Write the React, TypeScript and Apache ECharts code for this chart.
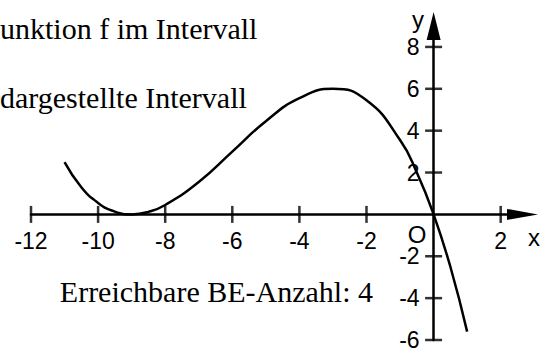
import { useEffect, useRef } from "react";
import * as echarts from "echarts";

// Curve (x, y pairs)
const curveX = [-11, -10.5, -10, -9.5, -9, -8.5, -8, -7, -6, -5, -4, -3, -2, -1, -0.5, 0, 0.5, 1];
const curveY = [2.5, 1.3, 0.55, 0.13, 0, 0.12, 0.45, 1.55, 3.0, 4.45, 5.55, 6.0, 5.45, 3.55, 2.0, 0, -2.5, -5.6];

// Axis ticks / labels
const xTicks = [-12, -10, -8, -6, -4, -2, 2];
const yTicks = [-6, -4, -2, 2, 4, 6, 8];
const xRange = [-12, 2.65];
const yRange = [-6, 9];

// Texts
const topLines = ["unktion f im Intervall", "dargestellte Intervall"];
const noteText = "Erreichbare BE-Anzahl: 4";
const xName = "x";
const yName = "y";
const originName = "O";

const SANS = "'Liberation Sans', Arial, sans-serif";
const SERIF = "'Liberation Serif', 'Times New Roman', serif";

const W = 547;
const H = 351;
const GRID = { left: 31, right: 24.5, top: 26, bottom: 11 };

export default function App() {
  const ref = useRef<HTMLDivElement>(null);

  useEffect(() => {
    document.body.style.margin = "0";
    if (!ref.current) return;
    const chart = echarts.init(ref.current, undefined, { renderer: "svg" });

    const labelFmt = (list: number[]) => (v: number) =>
      list.some((t) => Math.abs(t - v) < 1e-9) ? String(v) : "";

    const plotW = W - GRID.left - GRID.right;
    const plotH = H - GRID.top - GRID.bottom;
    // Move each axis onto the other axis' zero using the scale proportions
    const xAxisOffset = -((0 - yRange[0]) / (yRange[1] - yRange[0])) * plotH;
    const yAxisOffset = -((0 - xRange[0]) / (xRange[1] - xRange[0])) * plotW;

    chart.setOption({
      animation: false,
      backgroundColor: "#fff",
      grid: {
        ...GRID,
        containLabel: false,
        outerBoundsMode: "none",
      },
      xAxis: {
        type: "value",
        position: "bottom",
        offset: xAxisOffset,
        min: xRange[0],
        max: xRange[1],
        interval: 2,
        axisLine: {
          onZero: false,
          symbol: ["none", "triangle"],
          symbolSize: [11, 31],
          lineStyle: { color: "#000", width: 2.5 },
        },
        axisTick: { show: false },
        splitLine: { show: false },
        axisLabel: {
          formatter: labelFmt(xTicks),
          color: "#000",
          fontFamily: SANS,
          fontSize: 23,
          margin: 15,
        },
      },
      yAxis: {
        type: "value",
        position: "left",
        offset: yAxisOffset,
        min: yRange[0],
        max: yRange[1],
        interval: 2,
        axisLine: {
          onZero: false,
          symbol: ["none", "triangle"],
          symbolSize: [14, 28],
          lineStyle: { color: "#000", width: 2.5 },
        },
        axisTick: { show: false },
        splitLine: { show: false },
        axisLabel: {
          formatter: labelFmt(yTicks),
          color: "#000",
          fontFamily: SANS,
          fontSize: 23,
          margin: 14,
          padding: [6, 0, 0, 0],
        },
      },
      series: [
        {
          type: "line",
          data: curveX.map((x, i) => [x, curveY[i]]),
          smooth: 0.5,
          showSymbol: false,
          symbol: "none",
          lineStyle: { color: "#000", width: 2.5 },
          z: 5,
        },
        {
          type: "scatter",
          data: xTicks.map((x) => [x, 0]),
          symbol: "rect",
          symbolSize: [2.5, 17],
          itemStyle: { color: "#000" },
          clip: false,
        },
        {
          type: "scatter",
          data: yTicks.map((y) => [0, y]),
          symbol: "rect",
          symbolSize: [17, 2.5],
          itemStyle: { color: "#000" },
          clip: false,
        },
      ],
      graphic: [
        {
          type: "text",
          x: 0,
          y: 28,
          style: { text: topLines[0], fill: "#000", font: `30px ${SERIF}`, align: "left", verticalAlign: "middle" },
        },
        {
          type: "text",
          x: 0,
          y: 97,
          style: { text: topLines[1], fill: "#000", font: `30px ${SERIF}`, align: "left", verticalAlign: "middle" },
        },
        {
          type: "text",
          x: 373,
          y: 291,
          style: { text: noteText, fill: "#000", font: `30px ${SERIF}`, align: "right", verticalAlign: "middle" },
        },
        {
          type: "text",
          x: 417,
          y: 234,
          style: { text: originName, fill: "#000", font: `24px ${SANS}`, align: "center", verticalAlign: "middle" },
        },
        {
          type: "text",
          x: 534,
          y: 237,
          style: { text: xName, fill: "#000", font: `24px ${SANS}`, align: "center", verticalAlign: "middle" },
        },
        {
          type: "text",
          x: 418,
          y: 19,
          style: { text: yName, fill: "#000", font: `24px ${SANS}`, align: "center", verticalAlign: "middle" },
        },
      ],
    });

    return () => chart.dispose();
  }, []);

  return <div ref={ref} style={{ width: W, height: H }} />;
}
